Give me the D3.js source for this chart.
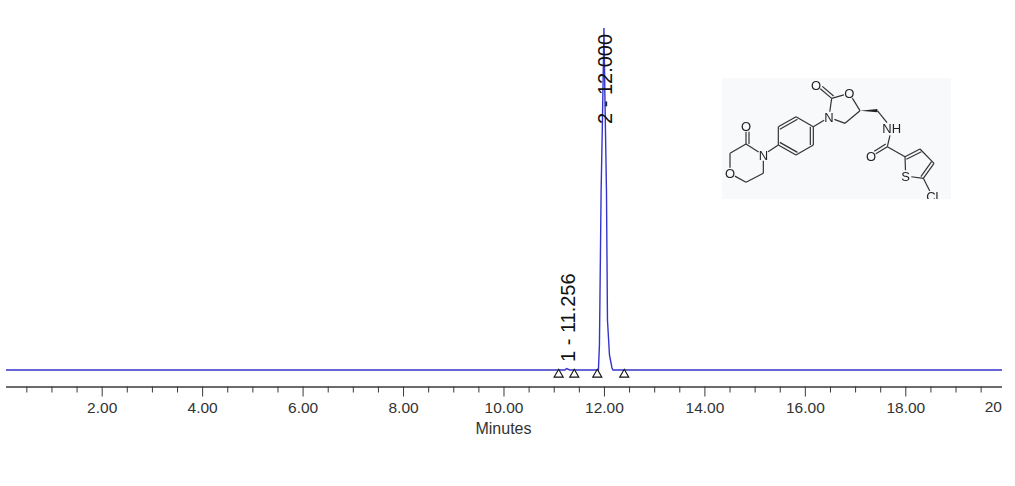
<!DOCTYPE html>
<html><head><meta charset="utf-8">
<script src="https://cdn.jsdelivr.net/npm/d3@7"></script>
<style>html,body{margin:0;padding:0;background:#fff}svg{display:block}text{font-family:"Liberation Sans",Arial,sans-serif}</style>
</head><body><div id="chart"></div>
<script>
const minutes = [0.095,11.22,11.256,11.32,11.89,11.91,11.92,11.944,11.97,11.99,12.0,12.02,12.05,12.07,12.11,12.16,12.18,19.925];
const response = [0,0,0.004,0,0,0.073,0.205,0.526,0.73,0.906,1,0.79,0.526,0.146,0.044,0.006,0,0];
const majorTicks = [2,4,6,8,10,12,14,16,18];
const minorTicks = [0.5,1,1.5,2.5,3,3.5,4.5,5,5.5,6.5,7,7.5,8.5,9,9.5,10.5,11,11.5,12.5,13,13.5,14.5,15,15.5,16.5,17,17.5,18.5,19,19.5];
const peakTimes = [11.256,12.0];
const peakLabels = ["1 - 11.256","2 - 12.000"];
const integrationMarks = [11.098,11.409,11.867,12.404];

// inset structure: atoms and bonds of the molecule (own unit space)
const atoms = {
 O1:[45,310],C1:[45,250],C2:[93,222],N1:[145,255],C3:[145,310],C4:[93,337],O2:[93,168],
 P1:[190,225],P2:[190,170],P3:[243,140],P4:[295,170],P5:[295,225],P6:[243,255],
 N2:[342,142],C5:[350,85],O3:[403,70],C6:[435,122],C7:[390,160],O4:[303,45],
 C8:[487,122],N3:[530,175],C9:[517,230],O5:[468,260],
 T1:[570,260],T2:[615,237],T3:[657,280],T4:[625,325],S1:[572,318],Cl:[652,378]
};
const bonds = [["O1","C1"],["C1","C2"],["C2","N1"],["N1","C3"],["C3","C4"],["C4","O1"],["C2","O2",2],
 ["N1","P1"],["P1","P2"],["P2","P3",2],["P3","P4"],["P4","P5",2],["P5","P6"],["P6","P1",2],
 ["P4","N2"],["N2","C5"],["C5","O3"],["O3","C6"],["C6","C7"],["C7","N2"],["C5","O4",2],
 ["C8","N3"],["N3","C9"],["C9","O5",2],["C9","T1"],["T1","T2",2],["T2","T3"],["T3","T4",2],["T4","S1"],["S1","T1"],["T4","Cl"]];
const labelled = ["O1","N1","O2","N2","O3","O4","N3","O5","S1","Cl"];
const atomText = {O1:"O",N1:"N",O2:"O",N2:"N",O3:"O",O4:"O",N3:"NH",O5:"O",S1:"S",Cl:"Cl"};

const W=1015,H=486;
const svg=d3.select("#chart").append("svg").attr("width",W).attr("height",H);
const x=d3.scaleLinear().domain([0.095,19.925]).range([6,1002]);
const y=d3.scaleLinear().domain([0,1]).range([370,28]);
const axisY=386.5;
const axisColor="#3a3a3a", textColor="#333";

const gMinor=svg.append("g").attr("transform",`translate(0,${axisY})`)
  .call(d3.axisBottom(x).tickValues(minorTicks).tickSize(6).tickFormat(""));
const gMajor=svg.append("g").attr("transform",`translate(0,${axisY})`)
  .call(d3.axisBottom(x).tickValues(majorTicks).tickSize(10).tickFormat(d3.format(".2f")));
[gMinor,gMajor].forEach(g=>{
  g.selectAll(".domain").attr("d",`M6,0.5H1002`).attr("stroke",axisColor);
  g.selectAll("line").attr("stroke",axisColor);
});
gMajor.selectAll("text").attr("y",15).attr("dy","0.71em").attr("font-size",15.5).attr("font-family",'"Liberation Sans"').attr("fill",textColor);
svg.append("text").attr("x",1002).attr("y",412).attr("text-anchor","end").attr("font-size",15.5).attr("fill",textColor).text("20");
svg.append("text").attr("x",503.5).attr("y",434).attr("text-anchor","middle").attr("font-size",16).attr("fill",textColor).text("Minutes");

const line=d3.line().x((d,i)=>x(minutes[i])).y(d=>y(d));
svg.append("path").datum(response).attr("d",line).attr("fill","none").attr("stroke","#3434cc").attr("stroke-width",1.4);

const tri=d3.symbol().type(d3.symbolTriangle).size(36);
svg.selectAll(".mark").data(integrationMarks).join("path").attr("class","mark")
  .attr("d",tri).attr("transform",d=>`translate(${x(d)},374.5)`)
  .attr("fill","#fff").attr("stroke","#111").attr("stroke-width",1.1);

svg.selectAll(".peak").data(peakTimes).join("text").attr("class","peak")
  .attr("transform",(d,i)=>`translate(${x(d)+8},${i?124:362}) rotate(-90)`)
  .attr("font-size",20).attr("fill","#111").text((d,i)=>peakLabels[i]);

const mx=d3.scaleLinear().domain([0,245]).range([715,796.67]);
const my=d3.scaleLinear().domain([0,135]).range([70,115]);
const defs=svg.append("defs");
defs.append("clipPath").attr("id","ins").append("rect").attr("x",722).attr("y",78).attr("width",229).attr("height",121);
defs.append("filter").attr("id","soft").append("feGaussianBlur").attr("stdDeviation",0.4);
svg.append("rect").attr("x",722).attr("y",78).attr("width",229).attr("height",121).attr("fill","#f8f9fa");
const m=svg.append("g").attr("clip-path","url(#ins)").append("g").attr("filter","url(#soft)");
bonds.forEach(([a,b,order])=>{
  let [x1,y1]=atoms[a],[x2,y2]=atoms[b];
  const dx=x2-x1,dy=y2-y1,len=Math.hypot(dx,dy);
  const trimA=labelled.includes(a)?(a=="N3"?22:17):0,trimB=labelled.includes(b)?(b=="N3"?22:17):0;
  const ax=x1+dx*trimA/len,ay=y1+dy*trimA/len,bx=x2-dx*trimB/len,by=y2-dy*trimB/len;
  const nx=-dy/len*9,ny=dx/len*9;
  const draw=(p,q,r,s)=>m.append("line").attr("x1",mx(p)).attr("y1",my(q)).attr("x2",mx(r)).attr("y2",my(s)).attr("stroke","#333").attr("stroke-width",1.2);
  draw(ax,ay,bx,by);
  if(order==2) draw(ax+nx,ay+ny,bx+nx,by+ny);
});
m.append("path").attr("d",`M${mx(atoms.C6[0])},${my(atoms.C6[1])}L${mx(atoms.C8[0])},${my(atoms.C8[1]-5)}L${mx(atoms.C8[0])},${my(atoms.C8[1]+5)}Z`).attr("fill","#222");
labelled.forEach(k=>{
  m.append("text").attr("x",mx(atoms[k][0])).attr("y",my(atoms[k][1])).attr("dy","0.36em").attr("text-anchor","middle")
   .attr("font-size",13).attr("fill","#222").text(atomText[k]);
});
</script></body></html>
